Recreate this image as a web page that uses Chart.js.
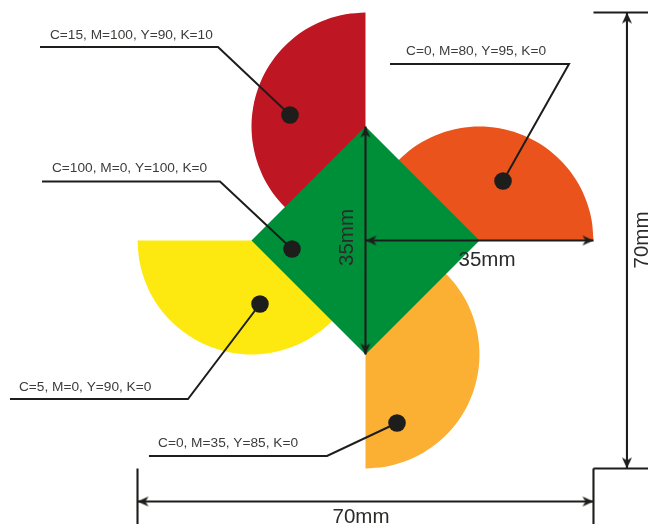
<!DOCTYPE html>
<html>
<head>
<meta charset="utf-8">
<style>html,body{margin:0;padding:0;background:#fff}canvas{display:block}</style>
<script src="https://cdn.jsdelivr.net/npm/chart.js@4"></script>
</head>
<body>
<canvas id="c" width="651" height="529"></canvas>
<script>
// All geometry in millimetres, origin at the centre of the square.
const redX = [0,-3.04,-5.99,-8.75,-11.25,-13.41,-15.16,-16.44,-17.23,-17.5,-17.23,-16.44,-15.16,-13.41,-11.25,-8.75,-5.99,-3.04,0];
const redY = [35,34.73,33.94,32.66,30.91,28.75,26.25,23.49,20.54,17.5,14.46,11.51,8.75,6.25,4.09,2.34,1.06,0.27,0];
const orangeX = [35,34.73,33.94,32.66,30.91,28.75,26.25,23.49,20.54,17.5,14.46,11.51,8.75,6.25,4.09,2.34,1.06,0.27,0];
const orangeY = [0,3.04,5.99,8.75,11.25,13.41,15.16,16.44,17.23,17.5,17.23,16.44,15.16,13.41,11.25,8.75,5.99,3.04,0];
const amberX = [0,3.04,5.99,8.75,11.25,13.41,15.16,16.44,17.23,17.5,17.23,16.44,15.16,13.41,11.25,8.75,5.99,3.04,0];
const amberY = [-35,-34.73,-33.94,-32.66,-30.91,-28.75,-26.25,-23.49,-20.54,-17.5,-14.46,-11.51,-8.75,-6.25,-4.09,-2.34,-1.06,-0.27,0];
const yellowX = [-35,-34.73,-33.94,-32.66,-30.91,-28.75,-26.25,-23.49,-20.54,-17.5,-14.46,-11.51,-8.75,-6.25,-4.09,-2.34,-1.06,-0.27,0];
const yellowY = [0,-3.04,-5.99,-8.75,-11.25,-13.41,-15.16,-16.44,-17.23,-17.5,-17.23,-16.44,-15.16,-13.41,-11.25,-8.75,-5.99,-3.04,0];
const greenX = [0,17.5,0,-17.5,0];
const greenY = [17.5,0,-17.5,0,17.5];

const leaderRedX = [-49.97,-22.64,-11.59];
const leaderRedY = [29.71,29.71,19.27];
const leaderGreenX = [-49.66,-22.34,-11.28];
const leaderGreenY = [9.06,9.06,-1.30];
const leaderOrangeX = [3.76,31.24,21.11];
const leaderOrangeY = [27.10,27.10,9.13];
const leaderYellowX = [-54.57,-27.25,-16.20];
const leaderYellowY = [-24.33,-24.33,-9.75];
const leaderAmberX = [-33.24,-5.91,4.84];
const leaderAmberY = [-33.08,-33.08,-28.02];

const cmykLabels = ["C=15, M=100, Y=90, K=10","C=100, M=0, Y=100, K=0","C=0, M=80, Y=95, K=0","C=5, M=0, Y=90, K=0","C=0, M=35, Y=85, K=0"];
const cmykLabelX = [-48.44,-48.13,6.22,-53.2,-31.85];
const cmykLabelY = [31.57,11.13,29.09,-22.49,-31.09];

const dimLabels = ["35mm","35mm","70mm","70mm"];
const dimLabelX = [18.65,-2.76,42.5,-0.69];
const dimLabelY = [-3.1,0.46,0.08,-42.5];
const dimLabelRotated = [false,true,true,false];

const zip = (xs, ys) => xs.map((x, i) => ({x, y: ys[i]}));
const INK = '#1d1d1b';

// Stealth arrowhead whose tip sits at the sprite's centre, pointing up.
const head = document.createElement('canvas');
head.width = 26; head.height = 26;
(function () {
  const g = head.getContext('2d');
  g.fillStyle = INK;
  g.beginPath();
  g.moveTo(13, 13); g.lineTo(18, 24); g.lineTo(13, 21); g.lineTo(8, 24);
  g.closePath(); g.fill();
})();

const shape = (label, xs, ys, color, tension) => ({
  label, data: zip(xs, ys), showLine: true, fill: 'shape', tension,
  backgroundColor: color, borderColor: color, borderWidth: 0, pointRadius: 0
});
const leader = (label, xs, ys) => ({
  label, data: zip(xs, ys), showLine: true, fill: false,
  borderColor: INK, borderWidth: 2, borderJoinStyle: 'miter',
  pointRadius: [0, 0, 8.8], pointBackgroundColor: INK, pointBorderWidth: 0
});
const rule = (label, xs, ys) => ({
  label, data: zip(xs, ys), showLine: true, fill: false,
  borderColor: INK, borderWidth: 2.1, borderCapStyle: 'butt', pointRadius: 0
});
const arrow = (label, xs, ys, rotations) => ({
  label, data: zip(xs, ys), showLine: true, fill: false,
  borderColor: INK, borderWidth: 2.1, pointStyle: head, pointRadius: 13, pointRotation: rotations
});

const textPlugin = {
  id: 'texts',
  afterDatasetsDraw(chart) {
    const {ctx, scales: {x, y}} = chart;
    ctx.save();
    ctx.textBaseline = 'middle';
    ctx.font = '13.7px "Liberation Sans"';
    ctx.fillStyle = '#3c3c3b';
    ctx.textAlign = 'left';
    cmykLabels.forEach((t, i) => ctx.fillText(t, x.getPixelForValue(cmykLabelX[i]), y.getPixelForValue(cmykLabelY[i])));
    ctx.font = '20.5px "Liberation Sans"';
    ctx.fillStyle = '#2b2b2a';
    ctx.textAlign = 'center';
    dimLabels.forEach((t, i) => {
      ctx.save();
      ctx.translate(x.getPixelForValue(dimLabelX[i]), y.getPixelForValue(dimLabelY[i]));
      if (dimLabelRotated[i]) ctx.rotate(-Math.PI / 2);
      ctx.fillText(t, 0, 0);
      ctx.restore();
    });
    ctx.restore();
  }
};

new Chart(document.getElementById('c'), {
  type: 'scatter',
  data: {
    datasets: [
      leader('Leader red', leaderRedX, leaderRedY),
      leader('Leader green', leaderGreenX, leaderGreenY),
      leader('Leader orange', leaderOrangeX, leaderOrangeY),
      leader('Leader yellow', leaderYellowX, leaderYellowY),
      leader('Leader amber', leaderAmberX, leaderAmberY),
      arrow('35mm vertical', [0,0], [17.5,-17.5], [0,180]),
      arrow('35mm horizontal', [0,35], [0,0], [-90,90]),
      arrow('70mm vertical', [40.14,40.14], [35,-35], [0,180]),
      arrow('70mm horizontal', [-35,35], [-40.07,-40.07], [-90,90]),
      rule('Top extension', [35,43.37], [35,35]),
      rule('Bottom extension', [35,43.37], [-35,-35]),
      rule('Right extension', [35,35], [-35,-43.52]),
      rule('Left extension', [-35,-35], [-35,-43.52]),
      shape('C=100, M=0, Y=100, K=0', greenX, greenY, '#008f39', 0),
      shape('C=15, M=100, Y=90, K=10', redX, redY, '#be1622', 0.33),
      shape('C=0, M=80, Y=95, K=0', orangeX, orangeY, '#ea531b', 0.33),
      shape('C=0, M=35, Y=85, K=0', amberX, amberY, '#fbb034', 0.33),
      shape('C=5, M=0, Y=90, K=0', yellowX, yellowY, '#fde90f', 0.33)
    ]
  },
  options: {
    responsive: false,
    animation: false,
    layout: {padding: 0, autoPadding: false},
    plugins: {legend: {display: false}, tooltip: {enabled: false}, title: {display: false}},
    scales: {
      x: {type: 'linear', display: false, min: -56.11, max: 43.83},
      y: {type: 'linear', display: false, min: -44.29, max: 36.92}
    }
  },
  plugins: [textPlugin]
});
</script>
</body>
</html>
